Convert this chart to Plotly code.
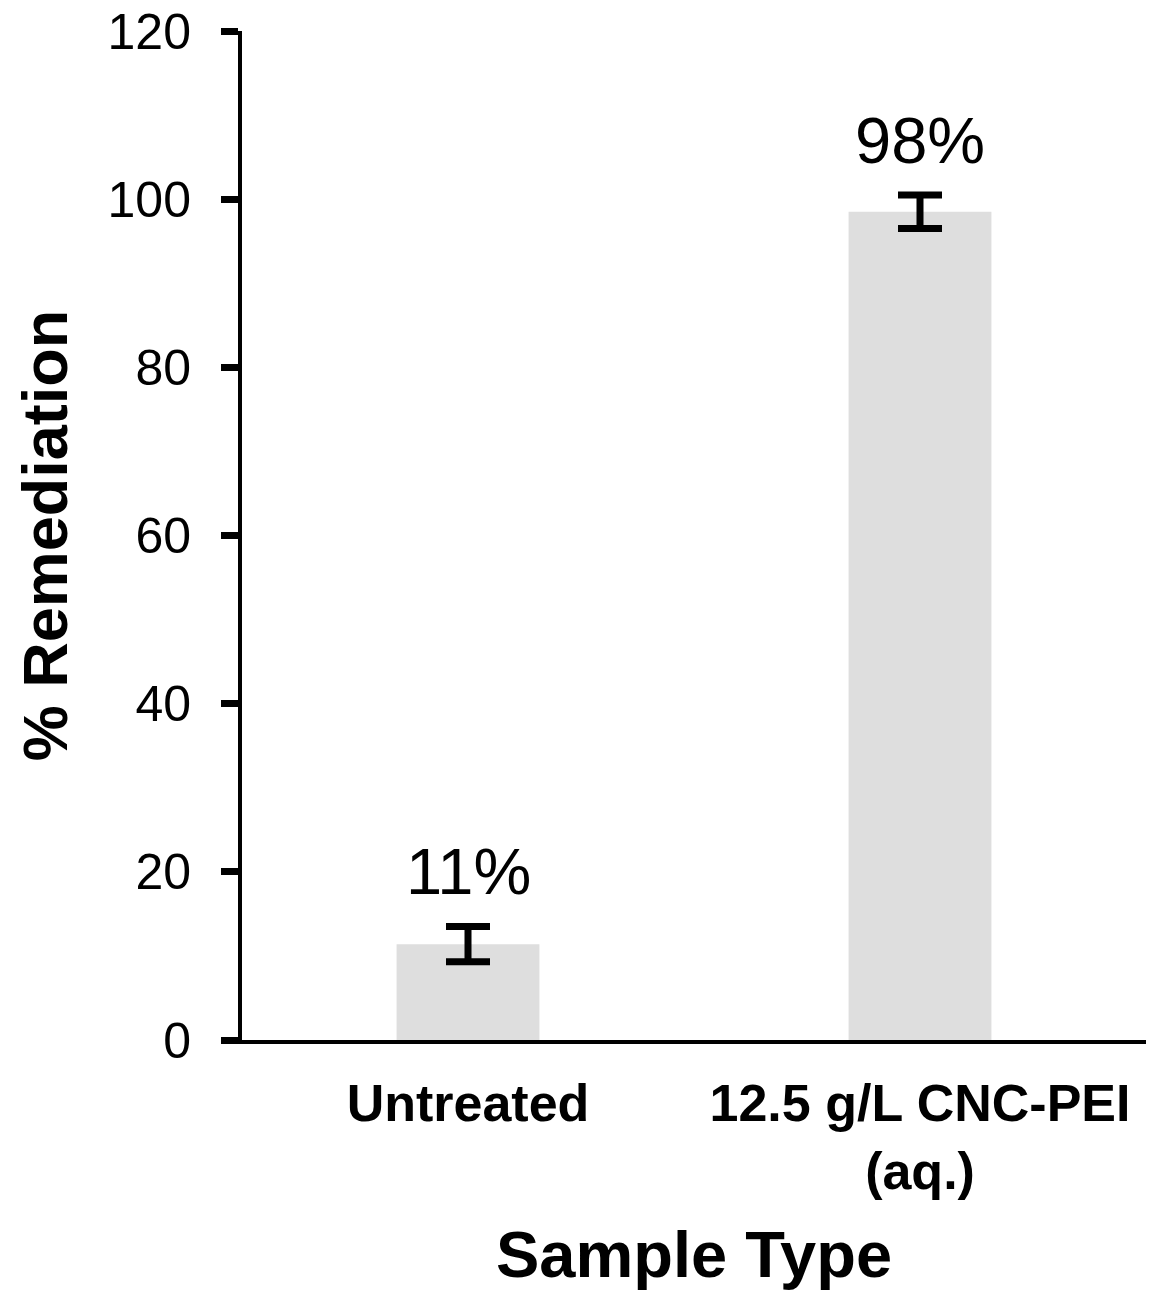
import plotly.graph_objects as go

categories = ["Untreated", "12.5 g/L CNC-PEI<br>(aq.)"]
values = [11.4, 98.5]
errors = [2.1, 2.0]
labels = ["11%", "98%"]
y_ticks = [0, 20, 40, 60, 80, 100, 120]

W, H = 1159, 1309
L, R, T, B = 242, 13, 31, 269

fig = go.Figure()
fig.add_trace(go.Bar(
    x=categories, y=values,
    marker=dict(color="#dedede", line=dict(width=0)),
    error_y=dict(type="data", array=errors, visible=True, color="black",
                 thickness=7, width=22),
    width=0.316,
))

for c, v, e, t in zip(categories, values, errors, labels):
    fig.add_annotation(x=c, y=v + e, text=t, showarrow=False, xanchor="center",
                       yanchor="bottom", yshift=16,
                       font=dict(family="Liberation Sans, Arial", size=65, color="black"))

fig.update_layout(
    width=W, height=H,
    margin=dict(l=L, r=R, t=T, b=B, autoexpand=False),
    plot_bgcolor="white", paper_bgcolor="white",
    showlegend=False,
    font=dict(family="Liberation Sans, Arial", color="black"),
)
fig.update_xaxes(
    showline=True, linecolor="black", linewidth=4, ticks="",
    tickfont=dict(family="Liberation Sans, Arial", size=52, color="black", weight="bold"),
    ticklabelstandoff=15,
    title=dict(text="<b>Sample Type</b>", font=dict(family="Liberation Sans, Arial", size=65, color="black"),
               standoff=33),
    automargin=False, showgrid=False, zeroline=False,
)
fig.update_yaxes(
    range=[0, 120], tickvals=y_ticks, showline=True, linecolor="black", linewidth=4,
    ticks="outside", ticklen=17, tickwidth=7, tickcolor="black",
    tickfont=dict(family="Liberation Sans, Arial", size=50, color="black"),
    ticklabelstandoff=20, ticklabeloverflow="allow",
    title=dict(text="<b>% Remediation</b>", font=dict(family="Liberation Sans, Arial", size=63, color="black"),
               standoff=21),
    automargin=False, showgrid=False, zeroline=False,
)

fig.write_html("out.html", config={"displayModeBar": False},
               post_script="document.body.style.margin='0';document.body.style.overflow='hidden';")
